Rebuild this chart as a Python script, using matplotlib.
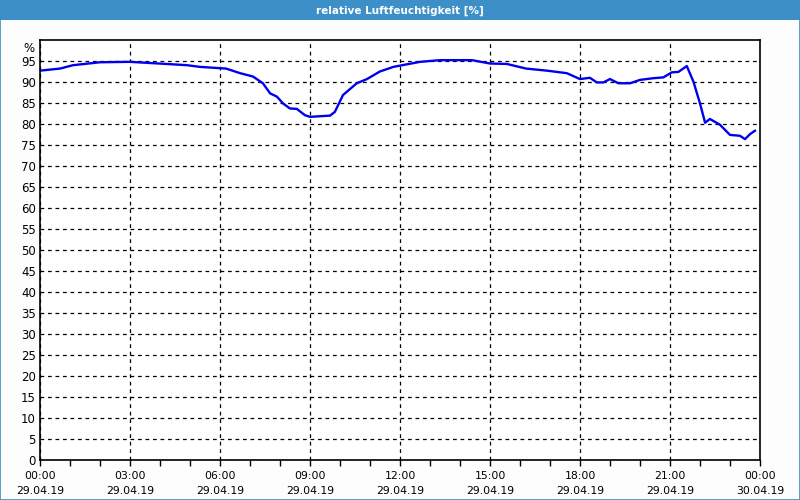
import numpy as np
import matplotlib.pyplot as plt
from matplotlib.patches import Rectangle
from matplotlib.ticker import MultipleLocator

# hours since 29.04.19 00:00, relative humidity in %
hours = [0.0, 0.67, 1.1, 2.0, 3.0, 4.2, 4.9, 5.33, 6.2, 6.67, 7.1, 7.43, 7.67,
         7.9, 8.1, 8.33, 8.56, 8.83, 9.0, 9.67, 9.83, 10.1, 10.56, 10.9, 11.33,
         11.78, 12.0, 12.67, 13.33, 14.4, 15.0, 15.56, 16.2, 16.9, 17.56, 18.0,
         18.33, 18.56, 18.78, 19.0, 19.28, 19.67, 20.0, 20.44, 20.78, 21.06,
         21.28, 21.56, 21.78, 22.0, 22.17, 22.33, 22.67, 23.0, 23.33, 23.5,
         23.67, 23.83]
humidity = [92.7, 93.2, 94.0, 94.7, 94.8, 94.3, 94.0, 93.6, 93.2, 92.1, 91.3,
            89.7, 87.3, 86.5, 84.9, 83.7, 83.6, 82.1, 81.7, 82.0, 82.9, 86.9,
            89.7, 90.7, 92.5, 93.6, 93.9, 94.8, 95.2, 95.2, 94.4, 94.3, 93.2,
            92.7, 92.1, 90.7, 91.0, 89.9, 89.9, 90.7, 89.7, 89.7, 90.5, 90.9,
            91.1, 92.3, 92.4, 93.8, 90.1, 84.9, 80.3, 81.2, 79.8, 77.4, 77.2,
            76.4, 77.6, 78.4]

tick_hours = [0, 3, 6, 9, 12, 15, 18, 21, 24]
tick_labels = ['00:00\n29.04.19', '03:00\n29.04.19', '06:00\n29.04.19',
               '09:00\n29.04.19', '12:00\n29.04.19', '15:00\n29.04.19',
               '18:00\n29.04.19', '21:00\n29.04.19', '00:00\n30.04.19']

title = 'relative Luftfeuchtigkeit [%]'

plt.rcParams['font.family'] = ['DejaVu Sans']
fig = plt.figure(figsize=(8, 5), dpi=100)
fig.patch.set_facecolor('#fdfdfd')

# title bar and window border
fig.patches.append(Rectangle((0, 0.96), 1, 0.04, transform=fig.transFigure,
                             facecolor='#3d8fc7', edgecolor='none', zorder=0))
fig.patches.append(Rectangle((0.0006, 0.001), 0.9988, 0.998, transform=fig.transFigure,
                             facecolor='none', edgecolor='#3d8fc7', linewidth=1.2, zorder=0))
fig.text(0.5, 0.979, title, color='white', fontsize=7.5, fontweight='bold',
         ha='center', va='center')

ax = fig.add_axes([0.05, 0.08, 0.90, 0.84])
ax.set_facecolor('white')
ax.plot(hours, humidity, color='#0000ee', linewidth=1.7)

ax.set_xlim(0, 24)
ax.set_ylim(0, 100)
ax.set_xticks(tick_hours)
ax.set_xticklabels(tick_labels, fontsize=7.8, linespacing=1.65)
ax.xaxis.set_minor_locator(MultipleLocator(1))
ax.set_yticks(np.arange(0, 100, 5))
ax.set_yticklabels([str(v) for v in range(0, 100, 5)], fontsize=8.5)
ax.text(-0.2, 99.6, '%', ha='right', va='top', fontsize=8.5)

ax.tick_params(axis='x', which='both', direction='out', length=4, width=1,
               pad=4, colors='black')
ax.tick_params(axis='y', length=0, pad=3)

ax.grid(True, which='major', color='black', linestyle=(0, (3, 3)), linewidth=0.9)
for s in ax.spines.values():
    s.set_linewidth(1.2)
    s.set_color('black')

fig.savefig('out.png', dpi=100, facecolor=fig.get_facecolor())
